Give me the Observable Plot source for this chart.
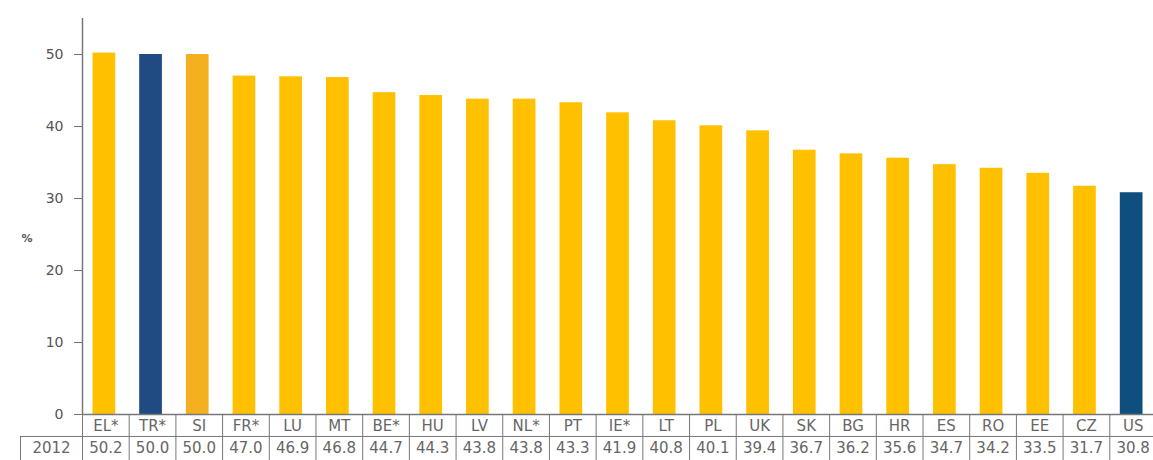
<!DOCTYPE html>
<html>
<head>
<meta charset="utf-8">
<script src="https://cdn.jsdelivr.net/npm/d3@7"></script>
<script src="https://cdn.jsdelivr.net/npm/@observablehq/plot@0.6"></script>
<style>
  html, body { margin: 0; padding: 0; background: #fff; overflow: hidden; }
  #chart svg { display: block; overflow: visible; }
</style>
</head>
<body>
<div id="chart"></div>
<script>
const countries = ["EL*", "TR*", "SI", "FR*", "LU", "MT", "BE*", "HU", "LV", "NL*", "PT", "IE*", "LT", "PL", "UK", "SK", "BG", "HR", "ES", "RO", "EE", "CZ", "US"];
const values = [50.2, 50.0, 50.0, 47.0, 46.9, 46.8, 44.7, 44.3, 43.8, 43.8, 43.3, 41.9, 40.8, 40.1, 39.4, 36.7, 36.2, 35.6, 34.7, 34.2, 33.5, 31.7, 30.8];
const yearLabel = "2012";
const yTicks = [0, 10, 20, 30, 40, 50];
const yLabel = "%";

const colorOf = (c) => c === "TR*" ? "#1f4a82" : c === "US" ? "#0e4f80" : c === "SI" ? "#f5b020" : "#ffc000";
const data = countries.map((c, i) => ({country: c, value: values[i], fill: colorOf(c)}));

const x0 = 82, x1 = 1156;
const bw = (x1 - x0) / countries.length;
const rowTop = 0, rowMid = -3.05, rowBot = -6.4;
const tableFont = "DejaVu Sans, Verdana, sans-serif";

const chart = Plot.plot({
  width: 1153,
  height: 460,
  marginTop: 18,
  marginBottom: 46,
  marginLeft: 82,
  marginRight: 0,
  style: {fontFamily: tableFont, fontSize: "14px", color: "#555", background: "#fff"},
  x: {domain: countries, range: [x0, x1], padding: 0, round: false, axis: null},
  y: {domain: [0, 55], range: [414, 18]},
  marks: [
    Plot.barY(data, {x: "country", y: "value", fill: "fill", insetLeft: 10.5, insetRight: 13.5}),
    Plot.axisY({ticks: yTicks, tickSize: 8, tickPadding: 11, fontSize: 14, stroke: "#777", fill: "#555", label: null}),
    Plot.text([yLabel], {frameAnchor: "left", dx: -61, dy: 22, fontSize: 11, fontWeight: "bold", fill: "#555"}),
    Plot.ruleX([0], {x: () => countries[0], dx: -bw / 2, stroke: "#777", strokeWidth: 1.5}),
    // table grid
    Plot.ruleY([rowTop], {stroke: "#777", strokeWidth: 1.5}),
    Plot.ruleY([rowMid], {stroke: "#777", insetLeft: -62, insetRight: -5}),
    Plot.ruleY([rowBot], {stroke: "#777", insetLeft: -62, insetRight: -5}),
    Plot.ruleX(countries, {x: d => d, y1: rowTop, y2: rowBot, dx: -bw / 2, stroke: "#777"}),
    Plot.ruleX([countries[0]], {x: d => d, y1: rowMid, y2: rowBot, dx: -bw / 2 - 62, stroke: "#777"}),
    Plot.text(countries, {x: d => d, y: -1.6, text: d => d, fontSize: 15, fill: "#666"}),
    Plot.text(data, {x: "country", y: -4.7, text: d => d.value.toFixed(1), fontSize: 15, fill: "#666"}),
    Plot.text([yearLabel], {x: () => countries[0], y: -4.7, dx: -bw / 2 - 31, text: d => d, fontSize: 15, fill: "#666"})
  ]
});
document.getElementById("chart").append(chart);
</script>
</body>
</html>
